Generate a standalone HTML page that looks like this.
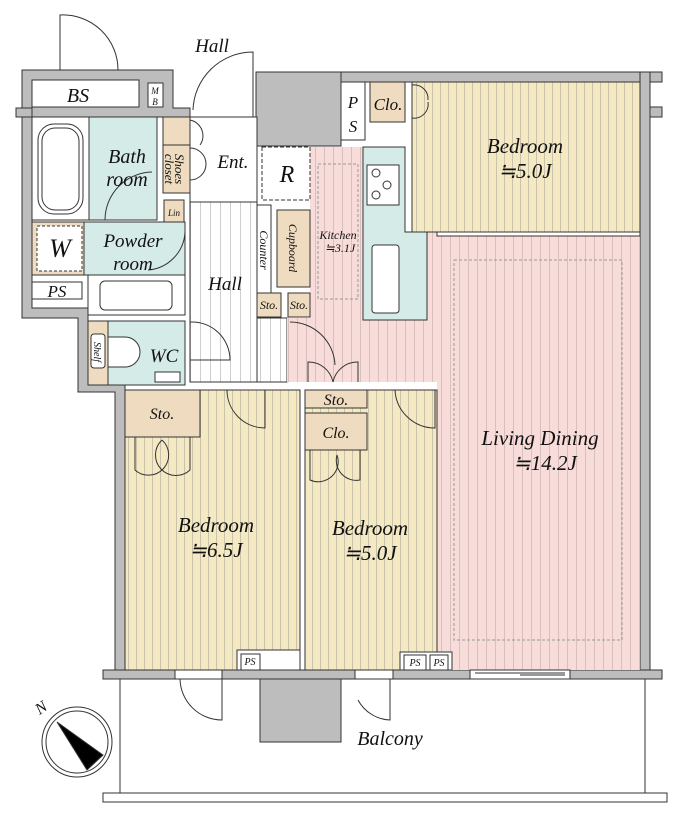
<!DOCTYPE html>
<html><head><meta charset="utf-8"><style>
html,body{margin:0;padding:0;background:#fff;}
svg{display:block;}
text{font-family:"Liberation Serif",serif;font-style:italic;fill:#111;}
</style></head><body>
<svg width="678" height="822" viewBox="0 0 678 822" xmlns="http://www.w3.org/2000/svg">
<defs>
<pattern id="py" width="8" height="10" patternUnits="userSpaceOnUse"><rect width="8" height="10" fill="#f4e9c3"/><line x1="0.5" y1="0" x2="0.5" y2="10" stroke="#c9c3ab" stroke-width="1"/></pattern>
<pattern id="pp" width="9" height="10" patternUnits="userSpaceOnUse"><rect width="9" height="10" fill="#f8dcd9"/><line x1="0.5" y1="0" x2="0.5" y2="10" stroke="#d6bfbd" stroke-width="1"/></pattern>
<pattern id="pw" width="10" height="10" patternUnits="userSpaceOnUse"><rect width="10" height="10" fill="#fff"/><line x1="0.5" y1="0" x2="0.5" y2="10" stroke="#cfcfcf" stroke-width="1"/></pattern>
</defs>
<g stroke="#333" stroke-width="1">
<path d="M22 70 H173 V108 H190 V117 H32 V308 H88 V385 H125 V670 H115 V392 H78 V318 H22 Z" fill="#bdbdbd"/>
<rect x="16" y="108" width="16" height="9" fill="#bdbdbd"/>
<rect x="256" y="72" width="406" height="10" fill="#bdbdbd"/>
<rect x="640" y="72" width="10" height="598" fill="#bdbdbd"/>
<rect x="650" y="107" width="12" height="10" fill="#bdbdbd"/>
<rect x="256" y="72" width="85" height="74" fill="#bdbdbd"/>
<rect x="103" y="670" width="559" height="9" fill="#bdbdbd"/>
<rect x="32" y="80" width="107" height="27" fill="#fff"/>
<rect x="148" y="83" width="15" height="24" fill="#fff"/>
<rect x="32" y="117" width="57" height="103" fill="#fff"/>
<rect x="38" y="124" width="45" height="90" rx="16" fill="#fff"/>
<rect x="42" y="128" width="37" height="82" rx="13" fill="#fff"/>
<rect x="89" y="117" width="68" height="103" fill="#d5ebe8"/>
<rect x="163" y="117" width="27" height="28" fill="#efdcc0"/>
<rect x="163" y="145" width="27" height="48" fill="#efdcc0"/>
<rect x="164" y="200" width="20" height="22" fill="#efdcc0"/>
<rect x="32" y="222" width="153" height="53" fill="#d5ebe8"/>
<rect x="32" y="222" width="52" height="53" fill="#efdcc0"/>
<rect x="37" y="226" width="45" height="45" fill="#fff" stroke-dasharray="3,2"/>
<rect x="32" y="282" width="50" height="17" fill="#fff"/>
<rect x="88" y="275" width="97" height="40" fill="#fff"/>
<rect x="100" y="281" width="72" height="29" rx="5" fill="#fff"/>
<rect x="88" y="321" width="97" height="64" fill="#d5ebe8"/>
<rect x="88" y="321" width="20" height="64" fill="#efdcc0"/>
<rect x="91" y="334" width="14" height="34" rx="3" fill="#fff"/>
<path d="M108 337 H125 A15 15 0 0 1 125 367 H108 Z" fill="#fff"/>
<rect x="155" y="372" width="25" height="10" fill="#fff"/>
<rect x="190" y="117" width="67" height="85" fill="#fff"/>
<rect x="190" y="202" width="67" height="180" fill="url(#pw)"/>
<rect x="257" y="318" width="30" height="64" fill="url(#pw)"/>
<path d="M262 147 H363 V320 H427 V232 H437 H640 V670 H437 V382 H287 V318 H310 V200 H262 Z" fill="url(#pp)" stroke="none"/>
<rect x="262" y="147" width="48" height="53" fill="#fff" stroke-dasharray="4,2"/>
<rect x="257" y="205" width="14" height="88" fill="#fff"/>
<rect x="277" y="210" width="33" height="77" fill="#efdcc0"/>
<rect x="257" y="293" width="24" height="24" fill="#efdcc0"/>
<rect x="288" y="293" width="22" height="24" fill="#efdcc0"/>
<rect x="318" y="164" width="40" height="135" fill="none" stroke="#999" stroke-dasharray="3,2"/>
<path d="M363 147 H405 V232 H427 V320 H363 Z" fill="#d5ebe8"/>
<rect x="367" y="165" width="32" height="40" fill="#fff"/>
<circle cx="376" cy="173" r="4" fill="#fff"/><circle cx="387" cy="185" r="4" fill="#fff"/><circle cx="376" cy="195" r="4" fill="#fff"/>
<rect x="372" y="245" width="27" height="68" rx="3" fill="#fff"/>
<rect x="454" y="260" width="168" height="380" fill="none" stroke="#999" stroke-dasharray="3,2"/>
<rect x="341" y="82" width="24" height="58" fill="#fff"/>
<rect x="370" y="82" width="35" height="40" fill="#efdcc0"/>
<rect x="412" y="82" width="228" height="150" fill="url(#py)"/>
<rect x="437" y="232" width="203" height="4" fill="#fff"/>
<rect x="125" y="390" width="175" height="280" fill="url(#py)"/>
<rect x="125" y="390" width="75" height="47" fill="#efdcc0"/>
<rect x="237" y="650" width="63" height="20" fill="#fff"/>
<rect x="241" y="654" width="19" height="16" fill="#fff"/>
<path d="M305 390 H437 V670 H305 Z" fill="url(#py)"/>
<rect x="305" y="390" width="62" height="18" fill="#efdcc0"/>
<rect x="305" y="413" width="62" height="37" fill="#efdcc0"/>
<rect x="400" y="652" width="52" height="18" fill="#fff"/>
<rect x="404" y="655" width="22" height="15" fill="#fff"/>
<rect x="430" y="655" width="18" height="15" fill="#fff"/>
<rect x="470" y="670" width="100" height="9" fill="#fff"/>
<path d="M120 679 V793 M645 679 V793" fill="none"/>
<rect x="103" y="793" width="564" height="9" fill="#fff"/>
<rect x="260" y="679" width="81" height="63" fill="#bdbdbd"/>
<rect x="175" y="670" width="47" height="9" fill="#fff"/>
<rect x="355" y="670" width="38" height="9" fill="#fff"/>
<g fill="none">
<path d="M60 70 V15 A55 55 0 0 1 118 70"/>
<path d="M253 117 V52 A60 60 0 0 0 193 110"/>
<path d="M190 120 A16 16 0 0 1 200 145"/>
<path d="M190 148 A16 16 0 0 1 190 180"/>
<path d="M152 172 A48 48 0 0 0 105 220"/>
<path d="M185 232 A40 40 0 0 1 148 270"/>
<path d="M190 322 A38 38 0 0 1 230 360 H190"/>
<path d="M290 322 A45 45 0 0 1 335 365"/>
<path d="M308 382 V362 A25 25 0 0 1 333 382 M358 382 V362 A25 25 0 0 0 333 382"/>
<path d="M227 390 A38 38 0 0 0 265 428 V390"/>
<path d="M395 390 A40 40 0 0 0 435 428 V390"/>
<path d="M135 437 V470 A20 20 0 0 0 162 440 M190 437 V470 A20 20 0 0 1 162 440"/>
<path d="M310 450 V480 A20 20 0 0 0 337 455 M360 450 V480 A20 20 0 0 1 337 455"/>
<path d="M412 85 A14 14 0 0 1 428 100 M412 118 A14 14 0 0 0 428 102"/>
<path d="M180 679 A42 42 0 0 0 222 720 V679"/>
<path d="M390 679 V720 A38 38 0 0 1 358 700"/>
<path d="M475 673 H565 M520 675 H565"/>
</g>
<circle cx="77" cy="742" r="35" fill="#fff"/>
<circle cx="77" cy="742" r="31" fill="#fff"/>
<polygon points="57,722 103,755 87,770" fill="#000"/>
</g>
<text x="78" y="102" font-size="20" text-anchor="middle">BS</text>
<text x="155" y="94" font-size="9" text-anchor="middle">M</text>
<text x="155" y="105" font-size="9" text-anchor="middle">B</text>
<text x="212" y="52" font-size="19" text-anchor="middle">Hall</text>
<text x="127" y="163" font-size="20" text-anchor="middle">Bath</text>
<text x="127" y="186" font-size="20" text-anchor="middle">room</text>
<text x="233" y="168" font-size="19" text-anchor="middle">Ent.</text>
<text x="287" y="182" font-size="24" text-anchor="middle">R</text>
<text x="174" y="216" font-size="9" text-anchor="middle">Lin</text>
<text transform="translate(175,169) rotate(90)" font-size="13" text-anchor="middle">Shoes</text>
<text transform="translate(165,169) rotate(90)" font-size="13" text-anchor="middle">closet</text>
<text x="60" y="257" font-size="26" text-anchor="middle">W</text>
<text x="133" y="247" font-size="19" text-anchor="middle">Powder</text>
<text x="133" y="270" font-size="19" text-anchor="middle">room</text>
<text x="57" y="297" font-size="17" text-anchor="middle">PS</text>
<text x="225" y="290" font-size="19" text-anchor="middle">Hall</text>
<text transform="translate(260,250) rotate(90)" font-size="12" text-anchor="middle">Counter</text>
<text transform="translate(289,248) rotate(90)" font-size="12" text-anchor="middle">Cupboard</text>
<text x="269" y="309" font-size="12" text-anchor="middle">Sto.</text>
<text x="299" y="309" font-size="12" text-anchor="middle">Sto.</text>
<text x="338" y="239" font-size="12" text-anchor="middle">Kitchen</text>
<text x="340" y="252" font-size="12" text-anchor="middle">≒3.1J</text>
<text x="164" y="362" font-size="19" text-anchor="middle">WC</text>
<text transform="translate(94,352) rotate(90)" font-size="10" text-anchor="middle">Shelf</text>
<text x="353" y="108" font-size="17" text-anchor="middle">P</text>
<text x="353" y="132" font-size="17" text-anchor="middle">S</text>
<text x="388" y="110" font-size="17" text-anchor="middle">Clo.</text>
<text x="525" y="153" font-size="21" text-anchor="middle">Bedroom</text>
<text x="525" y="178" font-size="21" text-anchor="middle">≒5.0J</text>
<text x="162" y="419" font-size="16" text-anchor="middle">Sto.</text>
<text x="336" y="405" font-size="16" text-anchor="middle">Sto.</text>
<text x="336" y="438" font-size="16" text-anchor="middle">Clo.</text>
<text x="540" y="445" font-size="21" text-anchor="middle">Living Dining</text>
<text x="545" y="470" font-size="21" text-anchor="middle">≒14.2J</text>
<text x="216" y="532" font-size="21" text-anchor="middle">Bedroom</text>
<text x="216" y="557" font-size="21" text-anchor="middle">≒6.5J</text>
<text x="370" y="535" font-size="21" text-anchor="middle">Bedroom</text>
<text x="370" y="560" font-size="21" text-anchor="middle">≒5.0J</text>
<text x="250" y="665" font-size="10" text-anchor="middle">PS</text>
<text x="415" y="666" font-size="10" text-anchor="middle">PS</text>
<text x="439" y="666" font-size="10" text-anchor="middle">PS</text>
<text x="390" y="745" font-size="20" text-anchor="middle">Balcony</text>
<text transform="translate(44,712) rotate(-35)" font-size="16" text-anchor="middle">N</text>
</svg>
</body></html>
